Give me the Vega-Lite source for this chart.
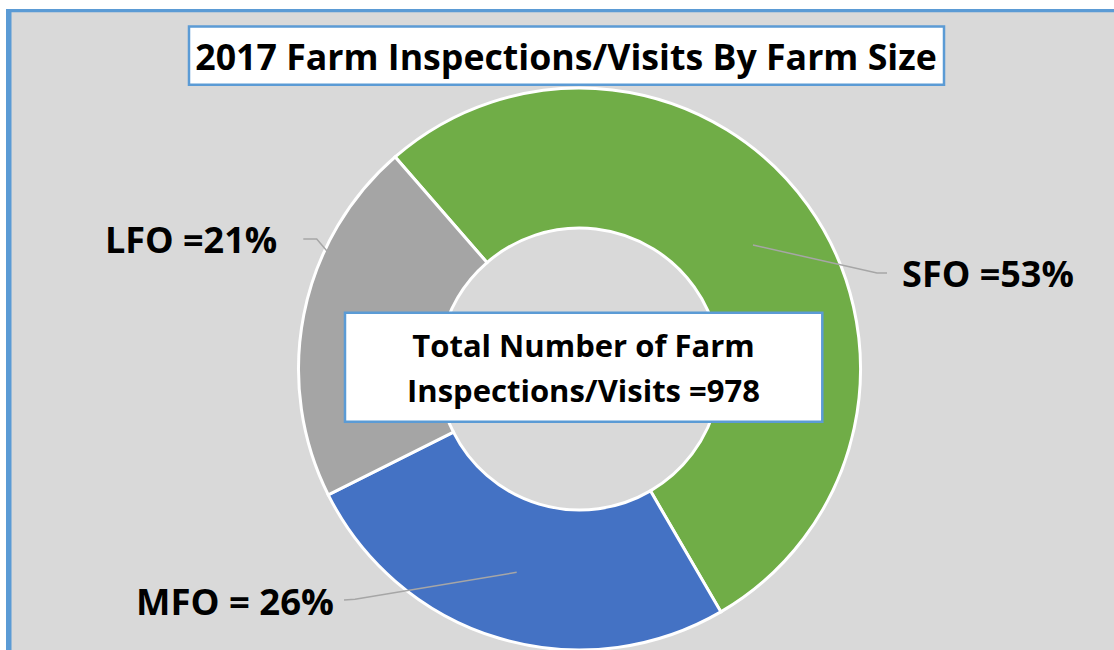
{
  "$schema": "https://vega.github.io/schema/vega-lite/v6.json",
  "width": 1141,
  "height": 716,
  "autosize": {"type": "none"},
  "padding": {"left": 9, "top": 11, "right": -36, "bottom": -77},
  "background": "#d9d9d9",
  "view": {"fill": null, "stroke": null},
  "config": {"font": "Open Sans"},
  "datasets": {
    "farms": [
      {"size": "SFO", "pct": 53, "rank": 1, "label": "SFO =53%"},
      {"size": "MFO", "pct": 26, "rank": 2, "label": "MFO = 26%"},
      {"size": "LFO", "pct": 21, "rank": 3, "label": "LFO =21%"}
    ],
    "notes": [
      {"title": "2017 Farm Inspections/Visits By Farm Size", "total": ["Total Number of Farm", "Inspections/Visits =978"]}
    ]
  },
  "layer": [
    {
      "data": {"name": "notes"},
      "mark": {"type": "point", "shape": "M-700,-450H700V-360H-573.5V450H-700Z", "size": 4, "filled": true, "fill": "white", "strokeWidth": 0, "opacity": 1},
      "encoding": {}
    },
    {
      "data": {"name": "notes"},
      "mark": {"type": "point", "shape": "M-573.5,450V-360H700V-356.7H-568V450Z", "size": 4, "filled": true, "fill": "#5b9bd5", "strokeWidth": 0, "opacity": 1},
      "encoding": {}
    },
    {
      "data": {"name": "farms"},
      "mark": {"type": "arc", "outerRadius": 281, "innerRadius": 141, "stroke": "white", "strokeWidth": 3},
      "encoding": {
        "theta": {"field": "pct", "type": "quantitative", "stack": true, "scale": {"domain": [0, 100], "range": [-0.7156, 5.5676]}},
        "color": {"field": "size", "type": "nominal", "scale": {"domain": ["SFO", "MFO", "LFO"], "range": ["#70ad47", "#4472c4", "#a5a5a5"]}, "legend": null},
        "order": {"field": "rank", "type": "quantitative"}
      }
    },
    {
      "data": {"name": "notes"},
      "mark": {"type": "point", "shape": "M-234.5,-56.3H242.8V52.7H-234.5Z", "size": 4, "filled": true, "fill": "white", "stroke": "#5b9bd5", "strokeWidth": 2.5, "opacity": 1},
      "encoding": {}
    },
    {
      "data": {"name": "notes"},
      "mark": {"type": "point", "shape": "M173.5,-124L297.5,-96L307.5,-96M-62.8,203.3L-224.5,230.3L-235.5,231M-276.2,-130L-262.8,-130L-250,-115", "size": 4, "filled": false, "color": "#a6a6a6", "strokeWidth": 1.5, "opacity": 1},
      "encoding": {}
    },
    {
      "data": {"name": "notes"},
      "mark": {"type": "point", "shape": "M-390.5,-342.5H364.5V-284.3H-390.5Z", "size": 4, "filled": true, "fill": "white", "stroke": "#5b9bd5", "strokeWidth": 2.5, "opacity": 1},
      "encoding": {}
    },
    {
      "data": {"name": "notes"},
      "mark": {"type": "text", "fontSize": 35.7, "fontWeight": "bold", "color": "black", "align": "center", "baseline": "alphabetic", "dx": -13.5, "dy": -299},
      "encoding": {"text": {"field": "title"}}
    },
    {
      "data": {"name": "notes"},
      "mark": {"type": "text", "fontSize": 31, "fontWeight": "bold", "color": "black", "align": "center", "baseline": "alphabetic", "lineHeight": 45, "dx": 4, "dy": -12},
      "encoding": {"text": {"field": "total"}}
    },
    {
      "data": {"name": "farms"},
      "transform": [
        {"stack": "pct", "groupby": [], "sort": [{"field": "rank", "order": "ascending"}], "as": ["p0", "p1"]},
        {"filter": {"field": "size", "equal": "SFO"}}
      ],
      "mark": {"type": "text", "radius": 416.6, "thetaOffset": 2.0883, "fontSize": 36, "fontWeight": "bold", "color": "black", "align": "center", "baseline": "alphabetic"},
      "encoding": {
        "theta": {"field": "p0", "type": "quantitative", "stack": null, "scale": {"domain": [0, 100], "range": [-0.7156, 5.5676]}},
        "text": {"field": "label"}
      }
    },
    {
      "data": {"name": "farms"},
      "transform": [
        {"stack": "pct", "groupby": [], "sort": [{"field": "rank", "order": "ascending"}], "as": ["p0", "p1"]},
        {"filter": {"field": "size", "equal": "MFO"}}
      ],
      "mark": {"type": "text", "radius": 423.3, "thetaOffset": 1.4778, "fontSize": 36.5, "fontWeight": "bold", "color": "black", "align": "center", "baseline": "alphabetic"},
      "encoding": {
        "theta": {"field": "p0", "type": "quantitative", "stack": null, "scale": {"domain": [0, 100], "range": [-0.7156, 5.5676]}},
        "text": {"field": "label"}
      }
    },
    {
      "data": {"name": "farms"},
      "transform": [
        {"stack": "pct", "groupby": [], "sort": [{"field": "rank", "order": "ascending"}], "as": ["p0", "p1"]},
        {"filter": {"field": "size", "equal": "LFO"}}
      ],
      "mark": {"type": "text", "radius": 405.4, "thetaOffset": 0.7545, "fontSize": 36, "fontWeight": "bold", "color": "black", "align": "center", "baseline": "alphabetic"},
      "encoding": {
        "theta": {"field": "p0", "type": "quantitative", "stack": null, "scale": {"domain": [0, 100], "range": [-0.7156, 5.5676]}},
        "text": {"field": "label"}
      }
    }
  ]
}
